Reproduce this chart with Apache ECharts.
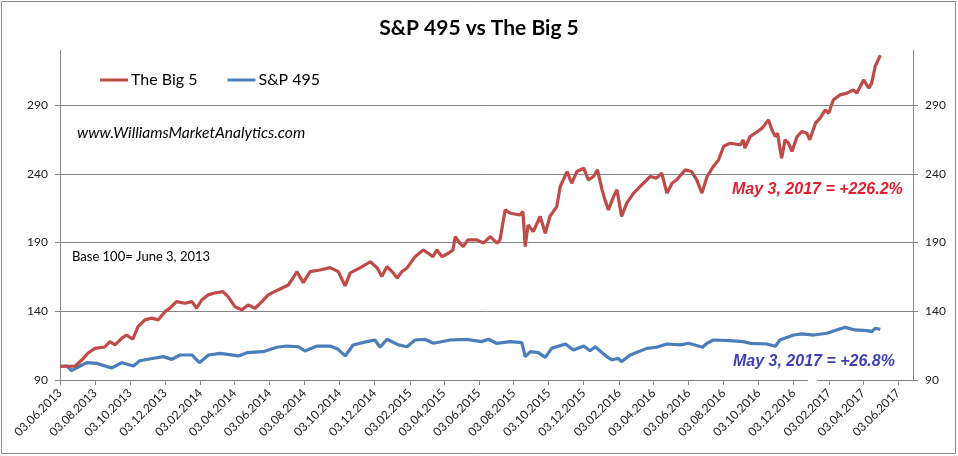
<!DOCTYPE html>
<html><head><meta charset="utf-8">
<script src="https://cdn.jsdelivr.net/npm/echarts@6/dist/echarts.min.js"></script>
<style>html,body{margin:0;padding:0;background:#fff}#c{width:958px;height:456px}</style>
</head><body><div id="c"></div>
<script>
// ---- data ----
const big5Dates = ['2013-06-03','2013-06-29','2013-07-11','2013-07-22','2013-08-03','2013-08-20','2013-08-29','2013-09-07','2013-09-19','2013-09-27',
'2013-10-08','2013-10-17','2013-10-29','2013-11-10','2013-11-21','2013-12-03','2013-12-12','2013-12-23','2014-01-07','2014-01-19',
'2014-01-27','2014-02-05','2014-02-16','2014-02-28','2014-03-14','2014-03-23','2014-04-04','2014-04-16','2014-04-27','2014-05-09',
'2014-05-21','2014-06-01','2014-06-18','2014-07-06','2014-07-14','2014-07-21','2014-08-01','2014-08-13','2014-08-30','2014-09-17',
'2014-10-01','2014-10-13','2014-10-22','2014-11-08','2014-11-26','2014-12-08','2014-12-16','2014-12-25','2015-01-03','2015-01-12',
'2015-01-20','2015-01-29','2015-02-12','2015-02-26','2015-03-07','2015-03-15','2015-03-22','2015-03-31','2015-04-11','2015-04-19',
'2015-04-23','2015-05-01','2015-05-07','2015-05-15','2015-05-31','2015-06-11','2015-06-23','2015-07-05','2015-07-10','2015-07-19',
'2015-07-28','2015-08-14','2015-08-19','2015-08-23','2015-08-28','2015-09-06','2015-09-18','2015-09-27','2015-10-05','2015-10-17',
'2015-10-23','2015-11-04','2015-11-12','2015-11-21','2015-12-03','2015-12-11','2015-12-20','2015-12-27','2016-01-04','2016-01-09',
'2016-01-15','2016-01-24','2016-01-30','2016-02-07','2016-02-16','2016-02-28','2016-03-10','2016-03-28','2016-04-08','2016-04-17',
'2016-04-26','2016-05-05','2016-05-13','2016-05-28','2016-06-08','2016-06-17','2016-06-26','2016-07-05','2016-07-16','2016-07-25',
'2016-08-03','2016-08-14','2016-09-01','2016-09-06','2016-09-09','2016-09-18','2016-09-27','2016-10-09','2016-10-20','2016-10-26',
'2016-11-01','2016-11-05','2016-11-08','2016-11-12','2016-11-18','2016-11-24','2016-11-30','2016-12-09','2016-12-17','2016-12-26',
'2016-12-31','2017-01-10','2017-01-18','2017-01-27','2017-02-02','2017-02-10','2017-02-22','2017-03-06','2017-03-17','2017-03-23',
'2017-04-04','2017-04-13','2017-04-18','2017-04-24','2017-05-03'];
const big5Values = [100,100,104.5,109.6,113,114,117.9,115.5,120.5,122.7,
119.8,128.8,133.7,135,133.7,139.7,142.4,147,145.8,147,
142.2,148.2,151.9,153.3,154.3,150.6,143.3,141,144.6,142.2,
147,151.9,155.5,159.1,164,168.8,160.8,168.8,170,171.7,
168.8,158.5,167.9,171.5,176,171.5,165.2,172.5,168.8,164.2,
168.8,171.5,179.7,184.6,182.2,179.7,184.6,179.7,182.2,184.6,
194.3,189.5,187,191.9,191.9,189.5,194.3,189.5,191.9,213.7,
211.3,210,212.5,187,202.8,197.9,208.9,196.7,209,216.1,
230.7,241.6,233.1,241.6,244.1,235.6,238,242.8,228.3,221,
213.7,223.4,228.3,208.9,218.6,225.9,230.7,238,236.8,240.4,
225.9,233.1,235.6,242.8,241.6,235.6,225.9,238,245.3,250.1,
260,262.2,261,264.7,258.6,267.1,269.5,273.2,279.2,272,
267.1,269.5,261,251.3,264.7,262.2,256.2,267.1,270.7,269.5,
264.7,276.8,280.4,286.5,284,293.7,297.4,298.6,301,298.6,
308.3,302.3,305.9,318,326.2];

const sp495Dates = ['2013-06-03','2013-06-15','2013-06-23','2013-07-08','2013-07-20','2013-08-06','2013-09-01','2013-09-19','2013-10-09','2013-10-20',
'2013-11-13','2013-11-30','2013-12-15','2013-12-29','2014-01-19','2014-02-01','2014-02-17','2014-03-09','2014-04-10','2014-04-25',
'2014-05-23','2014-06-16','2014-07-03','2014-07-24','2014-08-04','2014-08-25','2014-09-17','2014-10-01','2014-10-13','2014-10-27',
'2014-11-20','2014-12-04','2014-12-13','2014-12-25','2015-01-14','2015-01-29','2015-02-12','2015-03-01','2015-03-16','2015-04-14',
'2015-05-13','2015-06-08','2015-06-20','2015-07-04','2015-07-28','2015-08-17','2015-08-23','2015-09-01','2015-09-15','2015-09-27',
'2015-10-08','2015-11-01','2015-11-15','2015-12-03','2015-12-14','2015-12-23','2016-01-12','2016-01-21','2016-02-01','2016-02-07',
'2016-02-22','2016-03-22','2016-04-08','2016-04-26','2016-05-19','2016-06-03','2016-06-27','2016-07-05','2016-07-16','2016-08-14',
'2016-09-06','2016-09-18','2016-10-17','2016-11-01','2016-11-09','2016-12-03','2016-12-17','2017-01-07','2017-01-30','2017-02-16',
'2017-03-03','2017-03-20','2017-04-10','2017-04-18','2017-04-24','2017-05-03'];
const sp495Values = [100,100.2,96.8,100.2,102.6,102.1,98.7,102.6,100.2,104,
105.8,107,105,108.2,108.2,102.6,108.2,109.4,107.5,109.9,
110.6,113.8,114.7,114.2,111.1,114.7,114.7,112.3,107.5,115.5,
117.9,119.1,113.8,119.6,115.5,114.2,119.1,119.6,116.7,119.1,
119.6,117.9,119.6,116.7,117.9,117.2,107,110.6,109.9,106.5,
113,116.2,111.8,114.7,111.3,114.2,107,104.6,105.8,103.3,
108.2,113,113.8,116.2,115.5,116.7,113.8,116.7,119.1,118.6,
117.9,116.7,116.2,114.5,119.1,122.7,123.5,122.7,124,126.4,
128.3,126.4,125.9,125.2,127.6,126.8];

const tickLabels = ['03.06.2013','03.08.2013','03.10.2013','03.12.2013','03.02.2014','03.04.2014','03.06.2014','03.08.2014','03.10.2014',
'03.12.2014','03.02.2015','03.04.2015','03.06.2015','03.08.2015','03.10.2015','03.12.2015','03.02.2016','03.04.2016','03.06.2016',
'03.08.2016','03.10.2016','03.12.2016','03.02.2017','03.04.2017','03.06.2017'];
const yTicks = [90,140,190,240,290];
const seriesNames = ['The Big 5','S&P 495'];

// ---- build ----
function utc(s){const p=s.split('-');return Date.UTC(+p[0],+p[1]-1,+p[2]);}
function tickUtc(s){const p=s.split('.');return Date.UTC(+p[2],+p[1]-1,+p[0]);}
function pad(n){return (n<10?'0':'')+n;}
const tickValues = tickLabels.map(tickUtc);
const big5Data = big5Dates.map((d,i)=>[utc(d),big5Values[i]]);
const sp495Data = sp495Dates.map((d,i)=>[utc(d),sp495Values[i]]);

const axisGray = '#868686';
const labelColor = '#1a1a1a';
const baseFont = 'Lato, "Open Sans", sans-serif';

const chart = echarts.init(document.getElementById('c'), null, {renderer:'canvas'});
const yAxisCommon = {
  type:'value', min:90, max:330, interval:50,
  axisLine:{show:true, lineStyle:{color:axisGray, width:1}},
  axisTick:{show:true, length:5, customValues:yTicks, lineStyle:{color:axisGray}},
  axisLabel:{customValues:yTicks, color:labelColor, fontFamily:baseFont, fontSize:12, margin:12}
};
chart.setOption({
  animation:false,
  backgroundColor:'#fff',
  title:{text:'S&P 495 vs The Big 5', left:'center', top:13,
    textStyle:{fontFamily:baseFont, fontWeight:'bold', fontSize:21, color:'#000'}},
  legend:{data:seriesNames, left:95, top:67, icon:'rect', itemWidth:28, itemHeight:3, itemGap:30,
    textStyle:{fontFamily:baseFont, fontSize:16, color:'#000', padding:[0,0,0,-2]}},
  grid:{left:60, right:45, top:50, bottom:76, containLabel:false},
  xAxis:{type:'value', min:utc('2013-06-03'), max:utc('2017-06-29'), scale:true,
    axisLine:{show:true, onZero:false, lineStyle:{color:axisGray, width:1}},
    axisTick:{show:true, length:5, customValues:tickValues, lineStyle:{color:axisGray}},
    splitLine:{show:false},
    axisLabel:{customValues:tickValues, rotate:45, margin:11, color:labelColor, fontFamily:baseFont, fontSize:12,
      formatter:function(v){const d=new Date(v);return pad(d.getUTCDate())+'.'+pad(d.getUTCMonth()+1)+'.'+d.getUTCFullYear();}}
  },
  yAxis:[
    Object.assign({}, yAxisCommon, {position:'left', splitLine:{show:true, lineStyle:{color:axisGray, width:1}}}),
    Object.assign({}, yAxisCommon, {position:'right', splitLine:{show:false}})
  ],
  series:[
    {name:seriesNames[0], type:'line', data:big5Data, showSymbol:false, symbol:'none', z:3,
      lineStyle:{color:'#BE4B48', width:3.2}, itemStyle:{color:'#BE4B48'}},
    {name:seriesNames[1], type:'line', data:sp495Data, showSymbol:false, symbol:'none', z:2,
      lineStyle:{color:'#4A7EBB', width:3.2}, itemStyle:{color:'#4A7EBB'}}
  ],
  graphic:[
    {type:'rect', silent:true, z:-1, shape:{x:1.5, y:1.5, width:954, height:452},
      style:{fill:'none', stroke:'#8c8c8c', lineWidth:1}},
    {type:'text', left:77, top:125, style:{text:'www.WilliamsMarketAnalytics.com', fill:'#000',
      font:'italic 15.6px Lato, "Open Sans", sans-serif'}},
    {type:'text', left:72, top:250, style:{text:'Base 100= June 3, 2013', fill:'#000',
      font:'13px Lato, "Open Sans", sans-serif'}},
    {type:'text', left:732, top:182, style:{text:'May 3, 2017 = +226.2%', fill:'#E0202E',
      font:'italic bold 16px "Liberation Sans", Arial, sans-serif'}},
    {type:'rect', silent:true, z:10, shape:{x:808, y:376, width:9, height:8}, style:{fill:'#fff'}},
    {type:'text', left:733, top:354, z:11, style:{text:'May 3, 2017 = +26.8%', fill:'#4040B4',
      font:'italic bold 16px "Liberation Sans", Arial, sans-serif'}}
  ]
});
</script></body></html>
